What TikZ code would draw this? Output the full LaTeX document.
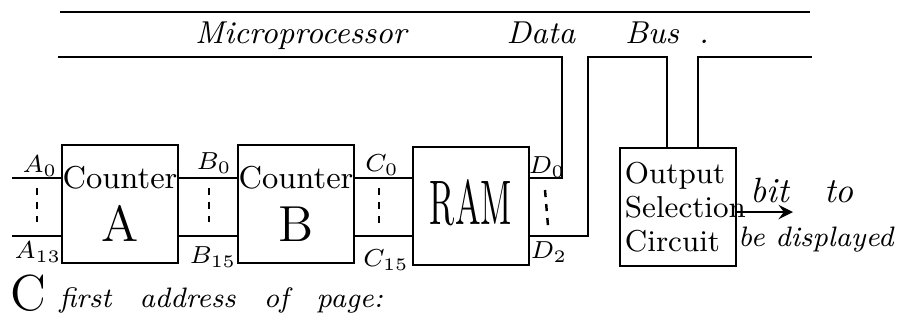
\documentclass[tikz,border=0pt]{standalone}
\usepackage{tikz}
\usetikzlibrary{arrows, positioning}
\tikzset{
  unit/.style={rectangle, draw, line width=0.8pt, minimum width=1.16cm,
    minimum height=1.18cm, inner sep=0pt, align=center, font=\small},
  wire/.style={line width=0.8pt},
  dots/.style={line width=0.7pt, dash pattern=on 2pt off 2pt},
  pin/.style={font=\scriptsize, inner sep=1pt},
  note/.style={font=\itshape, inner sep=0pt},
  arrow/.style={->,>=stealth,line width=0.8pt}
}
\begin{document}
\begin{tikzpicture}[x=0.01cm, y=-0.01cm]
\useasboundingbox (0,0) rectangle (897,330);

% fixed points of the bus and the signal rows
\coordinate (busTL) at (60,12);
\coordinate (busTR) at (810,12);
\coordinate (busBL) at (58,57);
\coordinate (busBR) at (812,57);
\coordinate (top) at (0,178);
\coordinate (bot) at (0,236);
\coordinate (ain0) at (12,178);
\coordinate (ain13) at (12,236);

\node (cntA)   [unit] at (120,204) {Counter\\[4pt]{\Large A}};
\node (cntB)   [unit] at (296,204) {Counter\\[4pt]{\Large B}};
\node (ram)    [unit] at (471,206) {\raisebox{0.08cm}{\resizebox{0.82cm}{0.45cm}{RAM}}};
\node (outsel) [unit, align=left, text width=1.06cm,
  font=\fontsize{8.6}{8.6}\selectfont] at (678,207)
  {Output\\[1pt]Selection\\[1pt]Circuit};

\node (bustitle) [note, font=\small\itshape] at (452,36)
  {Microprocessor\hspace{1cm}Data\hspace{0.5cm}Bus\hspace{0.2cm}.};

% address lines
\draw[wire] (ain0)  -- (ain0 -| cntA.west);
\draw[wire] (ain13) -- (ain13 -| cntA.west);
\draw[wire] (cntA.east |- top) -- (cntB.west |- top);
\draw[wire] (cntA.east |- bot) -- (cntB.west |- bot);
\draw[wire] (cntB.east |- top) -- (ram.west |- top);
\draw[wire] (cntB.east |- bot) -- (ram.west |- bot);

% bus and data lines
\coordinate (d0up)  at (562,57);
\coordinate (d2up)  at (588,57);
\coordinate (selin) at (667,57);
\coordinate (busin) at (698,57);
\draw[wire] (busTL) -- (busTR);
\draw[wire] (ram.east |- top) -| (d0up) -- (busBL);
\draw[wire] (ram.east |- bot) -| (d2up) -- (selin) -- (selin |- outsel.north);
\draw[wire] (outsel.north -| busin) -- (busin) -- (busBR);

\draw[dots] (37,188)  -- (37,222);
\draw[dots] (209,188) -- (209,222);
\draw[dots] (379,188) -- (379,224);
\draw[dots] (545,190) -- (548,226);

\node (a0)  [pin] at (40,166)  {$A_0$};
\node (a13) [pin] at (38,252)  {$A_{13}$};
\node (b0)  [pin] at (214,163) {$B_0$};
\node (b15) [pin] at (213,257) {$B_{15}$};
\node (c0)  [pin] at (382,165) {$C_0$};
\node (c15) [pin] at (386,260) {$C_{15}$};
\node (d0)  [pin] at (547,167) {$D_0$};
\node (d2)  [pin] at (549,252) {$D_2$};

% displayed bit
\coordinate (disp) at (793,212);
\draw[arrow] (outsel.east |- disp) -- (disp);
\node (bitto)  [note, font=\normalsize\itshape] at (802,190) {bit\quad to};
\node (beshow) [note, font=\footnotesize\itshape] at (816,240) {be displayed};

\node (pagec)    [note, font=\Large] at (28,293) {C};
\node (pagenote) [note, font=\footnotesize\itshape, right=0.12cm of pagec,
  yshift=-0.07cm] {first\quad address\quad of\quad page:};
\end{tikzpicture}
\end{document}
